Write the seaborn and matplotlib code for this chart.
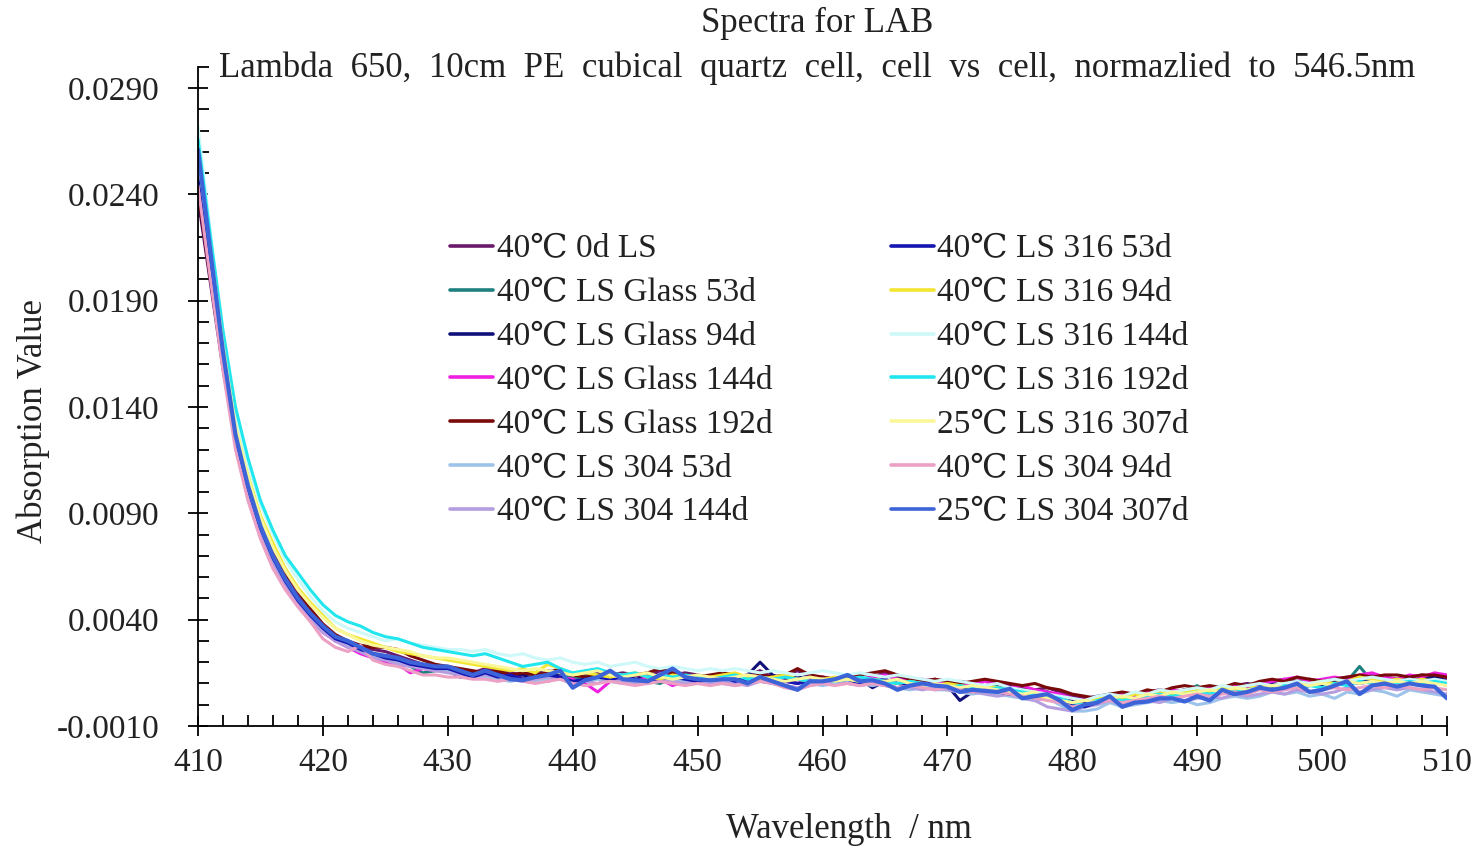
import matplotlib
matplotlib.use("Agg")
import matplotlib.pyplot as plt
from matplotlib.ticker import MultipleLocator, FormatStrFormatter
import seaborn as sns
import pandas as pd

# ---------------- data (absorbance in units of 1e-4) ----------------
UNIT = 1e-4
wavelength = list(range(410, 511))

labels = ["40℃ 0d LS", "40℃ LS Glass 53d", "40℃ LS Glass 94d", "40℃ LS Glass 144d",
          "40℃ LS Glass 192d", "40℃ LS 304 53d", "40℃ LS 304 144d",
          "40℃ LS 316 53d", "40℃ LS 316 94d", "40℃ LS 316 144d", "40℃ LS 316 192d",
          "25℃ LS 316 307d", "40℃ LS 304 94d", "25℃ LS 304 307d"]

s_0d = [238,198,158,124,101,83,70,60,52,44,37,32,29,27,26,25,23,21,19,18,17,16,15,
        17,16,15,14,15,16,15,13,14,15, 14,15,14,13,16,14,15,14,13,14,
        13,14,16,13,14,16,13,13,12,13, 12,13,15,13,12,11,12,10,11,10,
        9,10,9,8,7,8,6,4,3,4, 5,4,5,6,7,6,7,8,7,8,
        9,10,9,11,12,11,12,11,12,13, 12,14,13,12,13,14,13,12]
s_g53 = [245,203,162,125,101,82,68,58,49,42,35,31,28,25,23,21,20,18,15,16,17,15,14,
         15,14,13,12,14,13,15,12,13,14, 12,13,12,11,10,13,12,13,12,11,
         12,13,12,11,12,10,12,12,11,12, 11,12,11,10,11,10,10,9,8,9,
         8,9,7,7,6,6,4,2,1,2, 4,3,3,4,5,4,6,9,5,7,
         6,8,9,8,10,9,10,9,10,11, 18,11,12,11,12,11,12,10]
s_g94 = [240,200,160,124,100,81,68,57,48,41,35,30,28,25,23,21,20,19,18,17,16,13,15,
         14,15,13,14,12,13,14,9,12,13, 12,14,12,13,12,13,12,11,12,13,
         12,14,20,14,12,13,12,11,12,11, 12,8,11,12,11,10,11,9,2,6,
         8,7,8,6,5,6,4,2,1,3, 2,3,4,5,6,5,7,6,8,7,
         8,9,8,10,9,11,10,9,11,10, 12,11,10,12,11,12,13,11]
s_g144 = [243,202,161,124,99,80,66,56,47,40,34,30,27,24,22,20,19,15,17,16,16,15,14,
          14,13,14,12,13,11,13,12,10,6, 11,12,11,13,12,9,11,12,13,12,
          11,12,13,12,11,10,12,13,12,11, 12,13,14,12,11,12,11,10,9,10,
          11,10,8,9,7,6,5,3,2,3, 4,5,4,6,5,7,6,7,8,7,
          9,8,10,11,12,13,11,12,13,12, 14,15,13,12,14,13,15,14]
s_g192 = [241,200,160,125,102,84,71,62,54,45,38,33,30,28,27,27,26,23,21,19,18,17,16,
          15,16,14,15,14,15,17,14,13,14, 15,13,14,15,17,15,14,13,14,15,
          14,13,14,13,14,17,14,13,12,13, 14,15,16,14,12,11,12,11,10,11,
          12,11,10,9,10,8,7,5,4,3, 5,6,5,7,6,8,9,8,9,8,
          10,9,11,12,11,13,12,11,12,13, 14,13,14,14,13,14,14,13]
s_304_53 = [255,208,163,125,101,82,68,57,48,41,35,31,28,25,23,22,20,19,18,17,16,15,14,
            13,12,11,12,11,12,13,10,11,12, 11,10,11,10,11,12,11,10,11,10,
            9,10,11,10,9,8,10,9,10,11, 10,9,10,8,7,8,7,7,6,5,
            6,5,4,3,2,3,0,-3,-3,-2, 1,-1,0,1,2,1,2,0,1,3,
            4,3,4,6,5,6,4,5,3,6, 5,7,6,4,7,6,5,4]
s_304_144 = [250,205,161,123,99,80,66,56,47,40,34,30,27,25,22,21,19,18,17,16,15,14,13,
             14,13,12,11,12,13,12,10,11,10, 12,11,10,11,12,11,10,11,10,11,
             10,9,11,10,9,8,9,10,11,10, 9,10,9,8,8,7,8,7,6,6,
             5,4,5,3,2,-1,-2,-3,-1,0, 2,0,1,2,1,3,2,3,4,3,
             5,4,5,6,5,7,6,5,6,8, 6,7,8,7,8,7,6,5]
s_316_53 = [248,205,162,125,102,83,69,58,49,42,36,31,29,26,24,22,21,19,18,17,17,15,13,
            15,13,14,12,13,14,13,11,12,13, 12,13,12,11,12,13,12,11,12,13,
            11,12,13,12,11,10,11,12,11,12, 10,11,12,10,9,10,9,8,7,8,
            7,6,5,6,4,3,2,0,-1,1, 3,2,2,3,4,3,5,4,5,6,
            5,7,8,7,9,8,9,10,9,11, 10,11,10,11,12,10,11,9]
s_316_94 = [262,216,170,132,108,89,76,64,55,48,42,36,33,31,29,27,25,24,23,22,21,20,19,
            18,17,16,17,15,19,17,14,15,14, 13,14,15,13,12,14,13,12,13,14,
            15,13,12,13,14,12,11,12,13,12, 11,12,11,10,11,10,9,10,9,8,
            9,8,7,6,5,2,3,1,2,3, 4,3,5,4,6,5,6,7,6,8,
            7,9,8,9,10,9,10,11,10,11, 13,12,11,12,11,12,11,10]
s_316_144 = [272,222,175,137,113,94,80,68,59,51,44,39,36,34,32,30,31,29,28,27,26,26,25,
             26,24,23,24,22,21,22,20,19,20, 18,19,20,18,17,18,17,16,17,16,
             17,16,15,16,15,14,15,16,15,14, 15,14,13,14,13,12,11,12,11,10,
             9,10,8,7,6,5,4,3,2,4, 5,4,6,5,7,6,7,8,7,9,
             8,9,10,9,10,11,10,11,12,11, 12,13,12,11,12,11,12,11]
s_316_192 = [266,220,176,140,116,96,82,70,62,54,47,42,39,37,34,32,31,29,27,26,25,24,23,
             24,22,20,18,19,20,17,15,16,17, 15,14,15,13,14,13,14,13,12,13,
             14,12,13,12,13,12,11,12,11,12, 13,12,11,10,11,10,9,8,9,8,
             7,8,7,6,5,4,3,1,0,2, 3,2,3,4,5,4,5,6,5,7,
             6,7,8,7,9,8,9,8,10,9, 11,10,9,10,11,10,11,10]
s_316_307 = [258,214,169,131,107,88,74,63,54,47,41,36,33,30,28,27,26,25,23,22,22,21,20,
             19,18,17,16,17,16,15,14,15,16, 14,13,14,15,13,12,13,14,13,12,
             13,14,13,12,11,12,13,12,11,12, 11,10,11,12,10,9,10,9,8,9,
             8,7,6,5,6,3,2,1,2,1, 3,4,3,5,4,6,5,6,7,6,
             8,7,8,9,8,10,9,10,9,11, 10,11,10,11,10,11,10,9]
s_304_94 = [244,200,157,120,96,78,64,54,46,39,31,27,25,28,21,19,18,16,14,14,13,13,12,
            12,11,12,11,10,11,12,10,9,10, 11,10,9,10,11,10,9,10,9,10,
            9,10,11,10,8,7,9,10,9,10, 9,10,9,8,9,8,7,8,7,6,
            7,6,5,4,3,2,1,-1,0,1, 2,1,2,3,4,3,4,5,4,5,
            6,5,7,6,7,8,6,7,8,7, 8,9,8,9,8,7,8,7]
s_304_307 = [261,213,166,127,103,84,70,59,50,43,37,32,30,27,24,23,22,20,19,18,18,16,14,
             16,14,12,11.5,13,14,16,8,11.5,13, 16,12,11.5,11,14,17,13,12,11.5,12,
             12,10,13,11,9,7,11,11,12,14, 11,11.5,10,7,9,10,9,8.5,6,7,
             6.5,6,7.5,3,4,5,2,-2.5,0,1, 4,-1,1,1.5,3,3,1.5,4,2,7,
             5,6,8,7,8,10,6,7,9,11, 5,9,10,8.5,10,9,8.5,3]

series = [s_0d, s_g53, s_g94, s_g144, s_g192, s_304_53, s_304_144,
          s_316_53, s_316_94, s_316_144, s_316_192, s_316_307, s_304_94, s_304_307]

colors = ["#6B1A6B", "#1F8080", "#10107A", "#F020E0", "#7A0A0A", "#9EC3EA", "#B59EE0",
          "#1515B0", "#F2E630", "#CFF8F8", "#22E6EE", "#FAF79A", "#EBA0C4", "#3C64D8"]

frames = []
for lab, vals in zip(labels, series):
    frames.append(pd.DataFrame({"Wavelength": wavelength,
                                "Absorption": [v * UNIT for v in vals],
                                "Series": lab}))
df = pd.concat(frames, ignore_index=True)

# ---------------- style ----------------
sns.set_style("white")
SERIF = ["Liberation Serif", "DejaVu Serif", "Noto Sans CJK SC"]
plt.rcParams["font.family"] = SERIF
plt.rcParams["axes.unicode_minus"] = False

fig = plt.figure(figsize=(14.73, 8.51), dpi=100)
ax = fig.add_axes([198 / 1473, 1 - 726 / 851, (1447 - 198) / 1473, (726 - 66.7) / 851])

sns.lineplot(data=df, x="Wavelength", y="Absorption", hue="Series", hue_order=labels,
             palette=dict(zip(labels, colors)), estimator=None, sort=False,
             linewidth=2.2, ax=ax, legend=False)
for ln in ax.get_lines():
    ln.set_solid_joinstyle("round")
ax.get_lines()[-1].set_linewidth(3.0)

ax.set_xlim(410, 510)
ax.set_ylim(-0.001, 0.030)
ax.xaxis.set_major_locator(MultipleLocator(10))
ax.xaxis.set_minor_locator(MultipleLocator(2))
ax.yaxis.set_major_locator(MultipleLocator(0.005))
ax.yaxis.set_minor_locator(MultipleLocator(0.001))
ax.set_yticks([-0.001, 0.004, 0.009, 0.014, 0.019, 0.024, 0.029])
ax.yaxis.set_major_formatter(FormatStrFormatter("%.4f"))

for side in ["top", "right"]:
    ax.spines[side].set_visible(False)
for side in ["left", "bottom"]:
    ax.spines[side].set_color("black")
    ax.spines[side].set_linewidth(1.3)

ax.tick_params(axis="both", which="both", bottom=True, left=True, top=False, right=False)
ax.tick_params(axis="both", which="major", direction="inout", length=15, width=1.3,
               color="black", labelsize=24, labelcolor="#222222")
ax.tick_params(axis="y", which="major", pad=20)
ax.tick_params(axis="x", which="major", pad=8)
ax.tick_params(axis="both", which="minor", direction="in", length=8, width=1.3, color="black")
for t in ax.get_xticklabels() + ax.get_yticklabels():
    t.set_family(SERIF)

ax.set_xlabel("")
ax.set_ylabel("")
fig.text(849 / 1473, 1 - 830 / 851, "Wavelength  / nm", ha="center", va="center",
         fontsize=25, family=SERIF, color="#222222")
fig.text(33 / 1473, 1 - 421 / 851, "Absorption Value", ha="center", va="center",
         rotation=90, fontsize=25, family=SERIF, color="#222222")
fig.text(817 / 1473, 1 - 23 / 851, "Spectra for LAB", ha="center", va="center",
         fontsize=25, family=SERIF, color="#222222")
fig.text(817 / 1473, 1 - 68 / 851,
         "Lambda  650,  10cm  PE  cubical  quartz  cell,  cell  vs  cell,  normazlied  to  546.5nm",
         ha="center", va="center", fontsize=25, family=SERIF, color="#222222")

handles = [plt.Line2D([], [], color=c, linewidth=2.6) for c in colors]
leg = fig.legend(handles, labels, ncol=2, frameon=False, loc="upper left",
                 bbox_to_anchor=(450 / 1473, 1 - 234 / 851),
                 prop={"family": SERIF, "size": 24}, handlelength=1.3,
                 handletextpad=0.1, labelspacing=0.4, columnspacing=3.55,
                 borderaxespad=0, borderpad=0)
for t in leg.get_texts():
    t.set_color("#222222")

fig.savefig("out.png", dpi=100)
